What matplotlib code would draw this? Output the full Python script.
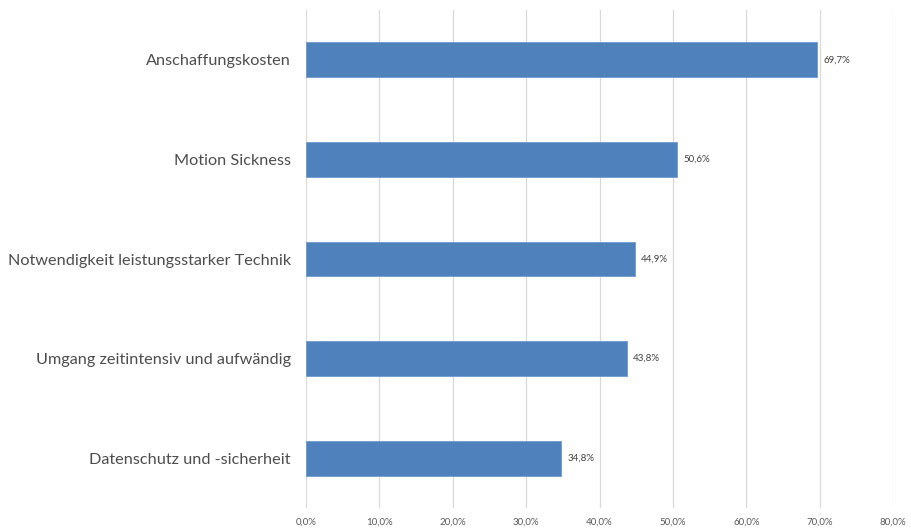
import matplotlib.pyplot as plt
from matplotlib.ticker import FuncFormatter

categories = [
    "Anschaffungskosten",
    "Motion Sickness",
    "Notwendigkeit leistungsstarker Technik",
    "Umgang zeitintensiv und aufwändig",
    "Datenschutz und -sicherheit",
]
values = [69.7, 50.6, 44.9, 43.8, 34.8]
xticks = [0, 10, 20, 30, 40, 50, 60, 70, 80]

plt.rcParams["font.family"] = ["Lato", "DejaVu Sans"]

fig = plt.figure(figsize=(9.12, 5.29), dpi=100)
ax = fig.add_axes([306 / 912, 21 / 529, 587 / 912, 498 / 529])

ypos = list(range(len(categories)))
ax.barh(ypos, values, height=0.35, color="#4F81BD", edgecolor="#6F9AD0",
        linewidth=0.6, zorder=3)

for y, v in zip(ypos, values):
    ax.text(v + 0.8, y, f"{v:.1f}%".replace(".", ","), va="center", ha="left",
            fontsize=7, color="#404040")

ax.set_yticks(ypos)
ax.set_yticklabels(categories, fontsize=11.7, color="#4D4D4D")
ax.set_ylim(4.5, -0.5)
ax.set_xlim(0, 80)
ax.set_xticks(xticks)
ax.xaxis.set_major_formatter(FuncFormatter(lambda x, _: f"{x:.1f}%".replace(".", ",")))
ax.tick_params(axis="x", labelsize=7, colors="#595959", length=0, pad=7)
ax.tick_params(axis="y", length=0, pad=11)
ax.grid(axis="x", color="#D9D9D9", linewidth=0.9, zorder=0)
for s in ax.spines.values():
    s.set_visible(False)

fig.savefig("out.png", dpi=100)
